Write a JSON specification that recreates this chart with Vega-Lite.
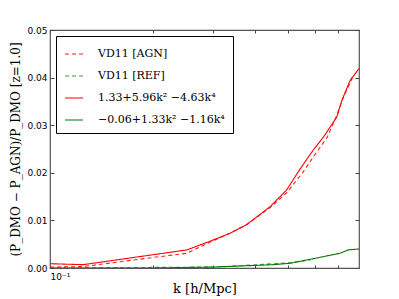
{
  "$schema": "https://vega.github.io/schema/vega-lite/v6.json",
  "width": 309,
  "height": 238,
  "autosize": {"type": "none"},
  "padding": {"left": 50, "top": 30, "right": 40, "bottom": 31},
  "background": "white",
  "config": {
    "view": {"stroke": "#555555", "strokeWidth": 1.2},
    "axis": {"domain": false, "grid": false, "tickColor": "#444444", "labelColor": "black", "titleColor": "black"}
  },
  "data": {
    "values": [
      {"k": 0.1, "y": 0.0002, "series": "VD11 [AGN]"},
      {"k": 0.125, "y": 0.0003, "series": "VD11 [AGN]"},
      {"k": 0.2, "y": 0.0022, "series": "VD11 [AGN]"},
      {"k": 0.252, "y": 0.0031, "series": "VD11 [AGN]"},
      {"k": 0.294, "y": 0.0054, "series": "VD11 [AGN]"},
      {"k": 0.337, "y": 0.0073, "series": "VD11 [AGN]"},
      {"k": 0.377, "y": 0.0091, "series": "VD11 [AGN]"},
      {"k": 0.442, "y": 0.0127, "series": "VD11 [AGN]"},
      {"k": 0.494, "y": 0.0158, "series": "VD11 [AGN]"},
      {"k": 0.55, "y": 0.02, "series": "VD11 [AGN]"},
      {"k": 0.6, "y": 0.024, "series": "VD11 [AGN]"},
      {"k": 0.65, "y": 0.0275, "series": "VD11 [AGN]"},
      {"k": 0.69, "y": 0.0318, "series": "VD11 [AGN]"},
      {"k": 0.725, "y": 0.0359, "series": "VD11 [AGN]"},
      {"k": 0.775, "y": 0.0404, "series": "VD11 [AGN]"},
      {"k": 0.1, "y": 0.0, "series": "VD11 [REF]"},
      {"k": 0.3, "y": 0.0002, "series": "VD11 [REF]"},
      {"k": 0.386, "y": 0.0006, "series": "VD11 [REF]"},
      {"k": 0.506, "y": 0.0011, "series": "VD11 [REF]"},
      {"k": 0.58, "y": 0.0017, "series": "VD11 [REF]"},
      {"k": 0.1, "y": 0.0009, "series": "1.33+5.96k² −4.63k⁴"},
      {"k": 0.125, "y": 0.0007, "series": "1.33+5.96k² −4.63k⁴"},
      {"k": 0.225, "y": 0.0033, "series": "1.33+5.96k² −4.63k⁴"},
      {"k": 0.252, "y": 0.0038, "series": "1.33+5.96k² −4.63k⁴"},
      {"k": 0.294, "y": 0.0056, "series": "1.33+5.96k² −4.63k⁴"},
      {"k": 0.337, "y": 0.0073, "series": "1.33+5.96k² −4.63k⁴"},
      {"k": 0.377, "y": 0.0091, "series": "1.33+5.96k² −4.63k⁴"},
      {"k": 0.442, "y": 0.0129, "series": "1.33+5.96k² −4.63k⁴"},
      {"k": 0.494, "y": 0.0164, "series": "1.33+5.96k² −4.63k⁴"},
      {"k": 0.541, "y": 0.0208, "series": "1.33+5.96k² −4.63k⁴"},
      {"k": 0.59, "y": 0.0247, "series": "1.33+5.96k² −4.63k⁴"},
      {"k": 0.633, "y": 0.0275, "series": "1.33+5.96k² −4.63k⁴"},
      {"k": 0.693, "y": 0.0317, "series": "1.33+5.96k² −4.63k⁴"},
      {"k": 0.717, "y": 0.0352, "series": "1.33+5.96k² −4.63k⁴"},
      {"k": 0.758, "y": 0.0394, "series": "1.33+5.96k² −4.63k⁴"},
      {"k": 0.805, "y": 0.0419, "series": "1.33+5.96k² −4.63k⁴"},
      {"k": 0.1, "y": 0.0, "series": "−0.06+1.33k² −1.16k⁴"},
      {"k": 0.2, "y": 0.0, "series": "−0.06+1.33k² −1.16k⁴"},
      {"k": 0.3, "y": 0.0002, "series": "−0.06+1.33k² −1.16k⁴"},
      {"k": 0.386, "y": 0.0005, "series": "−0.06+1.33k² −1.16k⁴"},
      {"k": 0.45, "y": 0.0007, "series": "−0.06+1.33k² −1.16k⁴"},
      {"k": 0.506, "y": 0.001, "series": "−0.06+1.33k² −1.16k⁴"},
      {"k": 0.605, "y": 0.0021, "series": "−0.06+1.33k² −1.16k⁴"},
      {"k": 0.708, "y": 0.0031, "series": "−0.06+1.33k² −1.16k⁴"},
      {"k": 0.75, "y": 0.0038, "series": "−0.06+1.33k² −1.16k⁴"},
      {"k": 0.805, "y": 0.004, "series": "−0.06+1.33k² −1.16k⁴"}
    ]
  },
  "layer": [
    {
      "mark": {"type": "line", "clip": true},
      "encoding": {
        "x": {
          "field": "k", "type": "quantitative",
          "scale": {"type": "log", "domain": [0.1, 0.805], "nice": false},
          "axis": {
            "title": "k [h/Mpc]",
            "titleFont": "DejaVu Serif", "titleFontSize": 13, "titleFontWeight": "normal", "titlePadding": 1,
            "values": [0.1, 0.2, 0.3, 0.4, 0.5, 0.6, 0.7],
            "labelExpr": "datum.value == 0.1 ? '10⁻¹' : ''",
            "labelFont": "DejaVu Sans", "labelFontSize": 9, "labelPadding": 7,
            "tickSize": -3
          }
        },
        "y": {
          "field": "y", "type": "quantitative",
          "scale": {"domain": [0, 0.05], "nice": false},
          "axis": {
            "title": "(P_DMO − P_AGN)/P_DMO [z=1.0]",
            "titleFont": "DejaVu Serif", "titleFontSize": 12, "titleFontWeight": "normal", "titlePadding": 4,
            "values": [0, 0.01, 0.02, 0.03, 0.04, 0.05],
            "format": ".2f",
            "labelFont": "DejaVu Sans", "labelFontSize": 9, "labelPadding": 7,
            "tickSize": -4
          }
        },
        "color": {
          "field": "series", "type": "nominal",
          "scale": {
            "domain": ["VD11 [AGN]", "VD11 [REF]", "1.33+5.96k² −4.63k⁴", "−0.06+1.33k² −1.16k⁴"],
            "range": ["#ff2020", "#3a9a3a", "#ff0000", "#007a00"]
          },
          "legend": {
            "title": null, "orient": "top-left", "offset": 6,
            "strokeColor": "black", "fillColor": "white", "padding": 8,
            "labelFont": "DejaVu Serif", "labelFontSize": 11, "labelOffset": 14,
            "symbolType": "stroke", "symbolSize": 324, "symbolStrokeWidth": 1.6,
            "rowPadding": 7, "labelLimit": 200
          }
        },
        "strokeDash": {
          "field": "series", "type": "nominal",
          "scale": {
            "domain": ["VD11 [AGN]", "VD11 [REF]", "1.33+5.96k² −4.63k⁴", "−0.06+1.33k² −1.16k⁴"],
            "range": [[4, 3], [4, 3], [1, 0], [1, 0]]
          },
          "legend": {
            "title": null, "orient": "top-left", "offset": 6,
            "strokeColor": "black", "fillColor": "white", "padding": 8,
            "labelFont": "DejaVu Serif", "labelFontSize": 11, "labelOffset": 14,
            "symbolType": "stroke", "symbolSize": 324, "symbolStrokeWidth": 1.6,
            "rowPadding": 7, "labelLimit": 200
          }
        },
        "strokeWidth": {
          "field": "series", "type": "nominal",
          "scale": {
            "domain": ["VD11 [AGN]", "VD11 [REF]", "1.33+5.96k² −4.63k⁴", "−0.06+1.33k² −1.16k⁴"],
            "range": [1.1, 1.1, 1.7, 1.7]
          },
          "legend": {
            "title": null, "orient": "top-left", "offset": 6,
            "strokeColor": "black", "fillColor": "white", "padding": 8,
            "labelFont": "DejaVu Serif", "labelFontSize": 11, "labelOffset": 14,
            "symbolType": "stroke", "symbolSize": 324,
            "rowPadding": 7, "labelLimit": 200
          }
        }
      }
    },
    {
      "mark": {"type": "rule", "opacity": 0},
      "encoding": {
        "y": {
          "field": "y", "type": "quantitative",
          "axis": {"orient": "right", "labels": false, "title": null, "values": [0, 0.01, 0.02, 0.03, 0.04, 0.05], "tickSize": -4}
        },
        "x": {
          "field": "k", "type": "quantitative",
          "axis": {"orient": "top", "labels": false, "title": null, "values": [0.1, 0.2, 0.3, 0.4, 0.5, 0.6, 0.7], "tickSize": -3}
        }
      }
    }
  ],
  "resolve": {"axis": {"x": "independent", "y": "independent"}}
}
